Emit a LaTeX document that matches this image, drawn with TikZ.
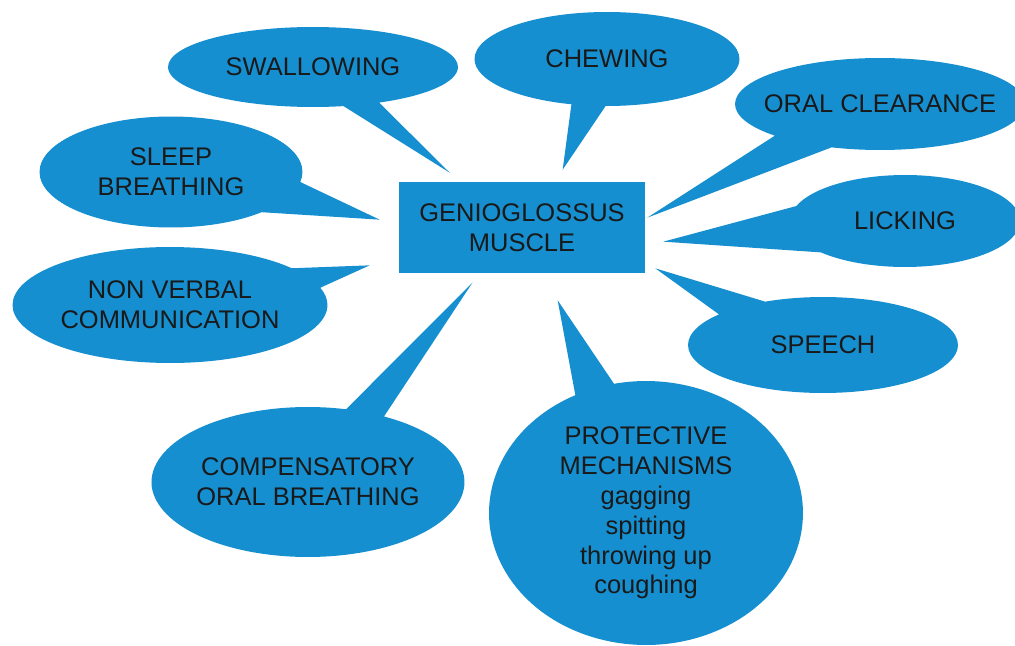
\documentclass[tikz,border=0pt]{standalone}
\usepackage{fontspec}
\setmainfont{Liberation Sans}
\usepackage{tikz}
\usetikzlibrary{shapes.callouts}
\definecolor{muscleblue}{RGB}{22,143,208}

\begin{document}
\begin{tikzpicture}[x=0.02cm, y=-0.02cm,
    bubble/.style={ellipse callout, fill=muscleblue, inner xsep=-0.6cm, inner ysep=0pt,
        align=center, text=black!90, font=\fontsize{14.5}{17}\selectfont},
    core/.style={rectangle, fill=muscleblue, minimum width=4.92cm, minimum height=1.82cm,
        align=center, text=black!90, font=\fontsize{14.5}{17}\selectfont}]
    \useasboundingbox (0,0) rectangle (1015,646);

    % central muscle
    \node[core] at (522,227.5) (gm) {GENIOGLOSSUS\\MUSCLE};

    % upper functions
    \node[bubble, minimum width=5.8cm, minimum height=1.6cm,
        callout absolute pointer={([shift={(51,-9)}]gm.north west)}] at (313,67) (swallow) {SWALLOWING};
    \node[bubble, minimum width=5.3cm, minimum height=1.88cm,
        callout absolute pointer={([shift={(164,-12)}]gm.north west)}] at (607,59) (chew) {CHEWING};
    \node[bubble, minimum width=5.8cm, minimum height=1.84cm, callout pointer arc=27,
        callout absolute pointer={([shift={(2,36)}]gm.north east)}] at (880,104) (clear) {ORAL CLEARANCE};

    % side functions
    \node[bubble, minimum width=5.26cm, minimum height=2.22cm, callout pointer arc=36,
        callout absolute pointer={([shift={(-19,38)}]gm.north west)}] at (171,172) (sleep) {SLEEP\\BREATHING};
    \node[bubble, minimum width=4.6cm, minimum height=1.84cm, callout pointer arc=62,
        callout absolute pointer={([shift={(18,60)}]gm.north east)}] at (905,221) (lick) {LICKING};
    \node[bubble, minimum width=6.3cm, minimum height=2.32cm, callout pointer arc=22,
        callout absolute pointer={([shift={(-29,-8)}]gm.south west)}] at (170,305) (nonverbal) {NON VERBAL\\COMMUNICATION};
    \node[bubble, minimum width=5.4cm, minimum height=1.92cm, callout pointer arc=25,
        callout absolute pointer={([shift={(10,-5)}]gm.south east)}] at (823,345) (speech) {SPEECH};

    % lower functions
    \node[bubble, minimum width=6.26cm, minimum height=3cm,
        callout absolute pointer={([shift={(74,9)}]gm.south west)}] at (308,482) (oralbreath) {COMPENSATORY\\ORAL BREATHING};
    \node[bubble, minimum width=6.28cm, minimum height=5.28cm,
        callout absolute pointer={([shift={(159,27)}]gm.south west)}] at (646,513) (protect)
        {PROTECTIVE\\MECHANISMS\\gagging\\spitting\\throwing up\\coughing};
\end{tikzpicture}
\end{document}
